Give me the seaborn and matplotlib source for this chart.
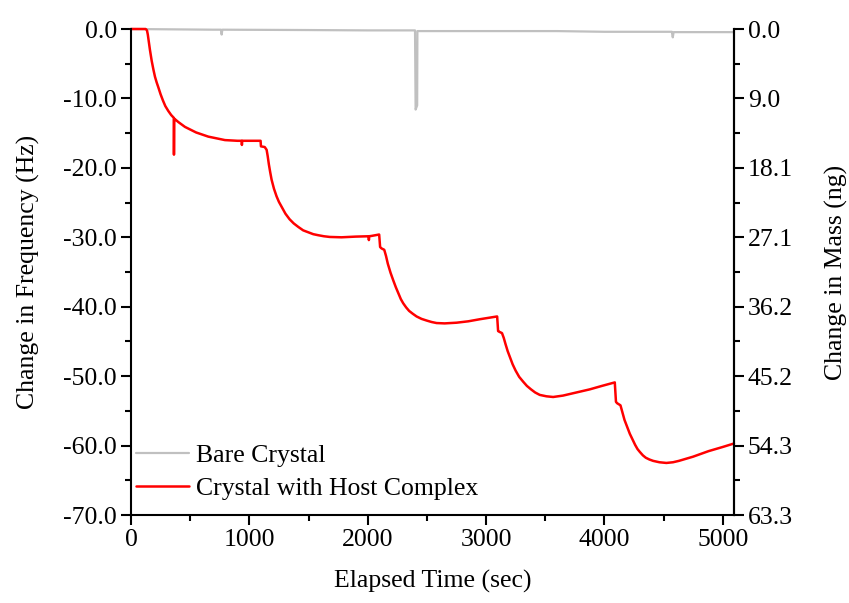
import numpy as np
import pandas as pd
import seaborn as sns
import matplotlib.pyplot as plt
from matplotlib.ticker import MultipleLocator, FormatStrFormatter

# frequency traces (time in sec, change in Hz)
host_time = [0, 124, 135, 142, 150, 160, 175, 190, 203, 217, 231, 250, 270, 290, 315, 340,
             362, 363, 365, 400, 456, 550, 653, 794, 900, 935, 937, 940, 1000, 1075, 1095,
             1098, 1130, 1146, 1155, 1165, 1176, 1188, 1208, 1230, 1250, 1273, 1305, 1340,
             1375, 1413, 1455, 1500, 1540, 1582, 1630, 1680, 1779, 1900, 2008, 2010, 2013,
             2033, 2097, 2105, 2117, 2140, 2155, 2170, 2193, 2216, 2238, 2260, 2280, 2300,
             2325, 2350, 2380, 2413, 2455, 2500, 2540, 2582, 2650, 2751, 2850, 2948, 3020,
             3094, 3102, 3111, 3135, 3150, 3165, 3183, 3201, 3225, 3250, 3280, 3314, 3345,
             3380, 3415, 3454, 3510, 3567, 3650, 3750, 3877, 3980, 4088, 4098, 4108, 4136,
             4152, 4170, 4192, 4215, 4237, 4260, 4280, 4299, 4325, 4350, 4380, 4412, 4465,
             4524, 4580, 4630, 4690, 4749, 4815, 4880, 4940, 5000, 5095]
host_freq = [0.0, 0.0, -0.2, -0.8, -1.8, -3.0, -4.6, -5.9, -6.9, -7.7, -8.4, -9.4, -10.3,
             -11.1, -11.8, -12.4, -12.8, -18.1, -12.9, -13.4, -14.1, -14.9, -15.5, -16.0,
             -16.1, -16.1, -16.7, -16.1, -16.1, -16.1, -16.1, -16.9, -17.0, -17.4, -18.3,
             -19.5, -20.6, -21.7, -23.0, -24.1, -24.9, -25.6, -26.6, -27.4, -28.0, -28.5,
             -29.0, -29.3, -29.55, -29.7, -29.85, -29.95, -30.0, -29.9, -29.85, -30.4,
             -29.85, -29.8, -29.6, -31.4, -31.6, -31.8, -32.7, -33.8, -35.1, -36.2, -37.2,
             -38.1, -38.9, -39.5, -40.1, -40.6, -41.0, -41.4, -41.75, -42.0, -42.2, -42.35,
             -42.4, -42.3, -42.1, -41.8, -41.6, -41.4, -43.5, -43.6, -43.8, -44.5, -45.4,
             -46.4, -47.2, -48.3, -49.2, -50.1, -50.8, -51.4, -51.9, -52.35, -52.7, -52.9,
             -53.0, -52.8, -52.4, -51.9, -51.4, -50.9, -53.7, -53.9, -54.2, -55.2, -56.3,
             -57.3, -58.3, -59.1, -59.9, -60.5, -60.9, -61.4, -61.75, -62.0, -62.2, -62.4,
             -62.5, -62.4, -62.2, -61.9, -61.6, -61.2, -60.8, -60.5, -60.2, -59.7]

bare_time = [0, 700, 760, 766, 772, 1500, 2000, 2400, 2405, 2418, 2420, 3000, 3600, 4000,
             4570, 4578, 4585, 5095]
bare_freq = [0.0, -0.1, -0.1, -0.8, -0.1, -0.15, -0.2, -0.2, -11.6, -11.0, -0.3, -0.3, -0.3,
             -0.4, -0.4, -1.2, -0.45, -0.45]

mass_labels = ["0.0", "9.0", "18.1", "27.1", "36.2", "45.2", "54.3", "63.3"]

FS = 18.5

sns.set_style("ticks")
plt.rcParams["font.family"] = ["Liberation Serif", "DejaVu Serif"]
plt.rcParams["axes.linewidth"] = 1.5
for key in ["text.color", "axes.labelcolor", "xtick.color", "ytick.color", "axes.edgecolor"]:
    plt.rcParams[key] = "black"

fig = plt.figure(figsize=(8.49, 6.03), dpi=100)
ax = fig.add_axes([0.1543, 0.1459, 0.7102, 0.806])

bare = pd.DataFrame({"t": bare_time, "f": bare_freq})
host = pd.DataFrame({"t": host_time, "f": host_freq})
sns.lineplot(data=bare, x="t", y="f", ax=ax, color="#c0c0c0", lw=1.6,
             estimator=None, sort=False, label="Bare Crystal")
sns.lineplot(data=host, x="t", y="f", ax=ax, color="#ff0000", lw=1.8,
             estimator=None, sort=False, label="Crystal with Host Complex")
for ln in ax.lines:
    ln.set_clip_on(False)

ax.set_xlim(0, 5095)
ax.set_ylim(-70, 0)
ax.xaxis.set_major_locator(MultipleLocator(1000))
ax.xaxis.set_minor_locator(MultipleLocator(500))
ax.yaxis.set_major_locator(MultipleLocator(10))
ax.yaxis.set_minor_locator(MultipleLocator(5))
ax.yaxis.set_major_formatter(FormatStrFormatter("%.1f"))
ax.tick_params(which="major", length=7, width=1.5, labelsize=FS, direction="out", pad=3)
ax.tick_params(which="minor", length=4, width=1.5, direction="out")
ax.set_xlabel("Elapsed Time (sec)", fontsize=FS, labelpad=14)
ax.set_ylabel("Change in Frequency (Hz)", fontsize=FS, labelpad=17)
ax.spines["top"].set_visible(False)

leg = ax.legend(loc="lower left", bbox_to_anchor=(0, 0.02), frameon=False, fontsize=FS,
                handlelength=2.07, handletextpad=0.27, borderaxespad=0.0, borderpad=0.2,
                labelspacing=0.4)

ax2 = ax.twinx()
ax2.set_ylim(63.3, 0)
ax2.set_yticks(np.linspace(0, 63.3, len(mass_labels)))
ax2.set_yticklabels(mass_labels)
ax2.set_yticks(np.linspace(0, 63.3, 15)[1::2], minor=True)
ax2.tick_params(which="major", length=7, width=1.5, labelsize=FS, direction="out", pad=3)
ax2.tick_params(which="minor", length=4, width=1.5, direction="out")
ax2.set_ylabel("Change in Mass (ng)", fontsize=FS, labelpad=23)
ax2.spines["top"].set_visible(False)
ax2.spines["left"].set_visible(False)
ax2.spines["bottom"].set_visible(False)

fig.savefig("out.png", dpi=100)
